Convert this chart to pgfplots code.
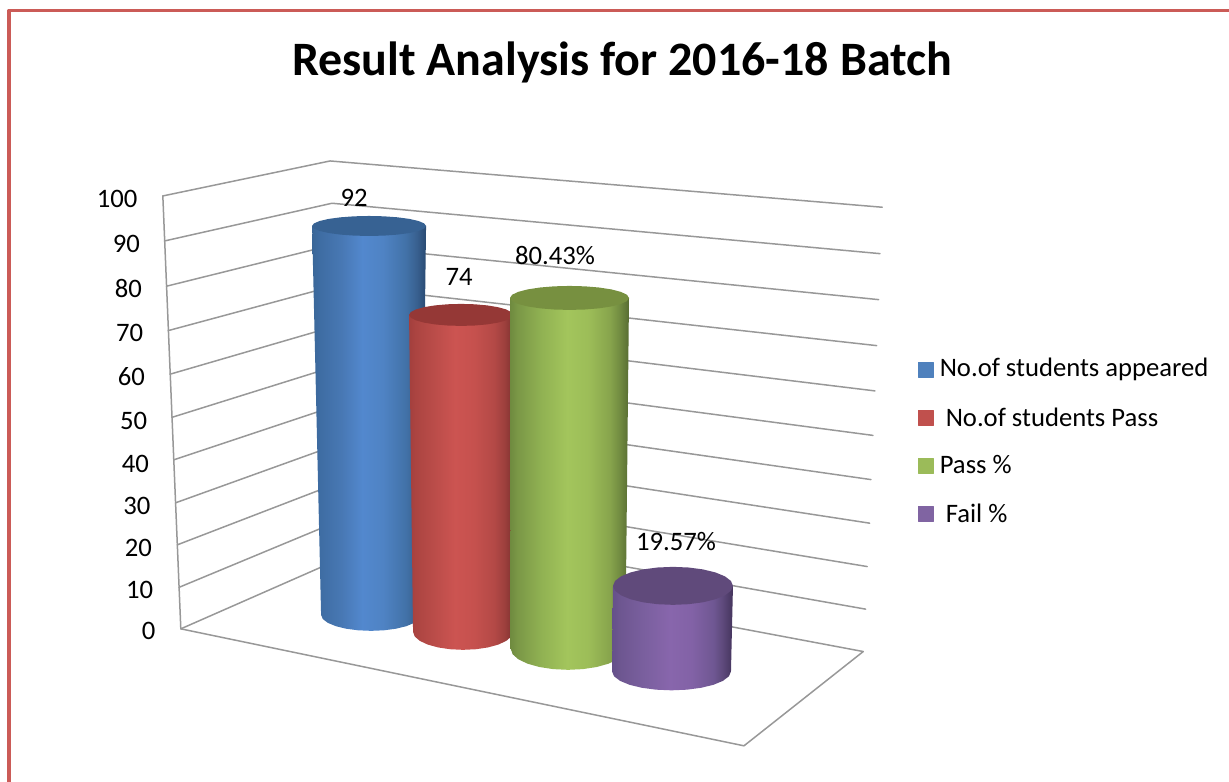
\documentclass[border=0pt]{standalone}
\usepackage{pgfplots}
\pgfplotsset{compat=1.18}
\usepackage{pgfplotstable}
\usepackage{fontspec}
\setmainfont{Carlito}
% one body: lower half of an ellipse, then up to the top rim
\pgfplotstableread{
t c s
0 -1 0
0 -0.966 0.259
0 -0.866 0.5
0 -0.707 0.707
0 -0.5 0.866
0 -0.259 0.966
0 0 1
0 0.259 0.966
0 0.5 0.866
0 0.707 0.707
0 0.866 0.5
0 0.966 0.259
0 1 0
1 1 0
1 -1 0
}\cylbody
\pgfplotstableread{
c s
1 0
0.966 0.259
0.866 0.5
0.707 0.707
0.5 0.866
0.259 0.966
0 1
-0.259 0.966
-0.5 0.866
-0.707 0.707
-0.866 0.5
-0.966 0.259
-1 0
-0.966 -0.259
-0.866 -0.5
-0.707 -0.707
-0.5 -0.866
-0.259 -0.966
0 -1
0.259 -0.966
0.5 -0.866
0.707 -0.707
0.866 -0.5
0.966 -0.259
}\cyltop
\definecolor{border}{HTML}{CB5B57}
\definecolor{gridc}{HTML}{989898}
\definecolor{lgblue}{HTML}{4F81BD}
\definecolor{lgred}{HTML}{C0504D}
\definecolor{lggreen}{HTML}{9BBB59}
\definecolor{lgpurple}{HTML}{8064A2}
\definecolor{topblue}{HTML}{376293}
\definecolor{topred}{HTML}{953836}
\definecolor{topgreen}{HTML}{779040}
\definecolor{toppurple}{HTML}{604A7B}
\pgfdeclarehorizontalshading{cylblue}{100bp}{rgb(0bp)=(.227,.4,.596);rgb(25bp)=(.227,.4,.596);rgb(28bp)=(.243,.424,.635);rgb(38bp)=(.282,.471,.706);rgb(47bp)=(.322,.533,.808);rgb(56bp)=(.31,.514,.769);rgb(66bp)=(.259,.447,.659);rgb(71bp)=(.22,.376,.561);rgb(75bp)=(.161,.29,.447);rgb(100bp)=(.161,.29,.447)}
\pgfdeclarehorizontalshading{cylred}{100bp}{rgb(0bp)=(.639,.247,.239);rgb(25bp)=(.639,.247,.239);rgb(28bp)=(.671,.267,.255);rgb(38bp)=(.737,.302,.29);rgb(47bp)=(.8,.329,.318);rgb(56bp)=(.776,.318,.306);rgb(66bp)=(.702,.286,.275);rgb(71bp)=(.612,.247,.235);rgb(75bp)=(.498,.196,.188);rgb(100bp)=(.498,.196,.188)}
\pgfdeclarehorizontalshading{cylgreen}{100bp}{rgb(0bp)=(.435,.541,.247);rgb(25bp)=(.435,.541,.247);rgb(28bp)=(.478,.592,.275);rgb(38bp)=(.565,.694,.322);rgb(49bp)=(.639,.773,.361);rgb(58bp)=(.612,.741,.345);rgb(67bp)=(.529,.643,.298);rgb(71bp)=(.447,.549,.255);rgb(75bp)=(.345,.424,.196);rgb(100bp)=(.345,.424,.196)}
\pgfdeclarehorizontalshading{cylpurple}{100bp}{rgb(0bp)=(.396,.314,.541);rgb(25bp)=(.396,.314,.541);rgb(28bp)=(.427,.337,.565);rgb(38bp)=(.478,.373,.62);rgb(49bp)=(.533,.4,.675);rgb(58bp)=(.51,.384,.651);rgb(67bp)=(.435,.341,.573);rgb(71bp)=(.361,.282,.475);rgb(75bp)=(.267,.204,.361);rgb(100bp)=(.267,.204,.361)}
% \cyl{shading}{top colour}{value}{px per unit}{top cx}{top rx}{top ry}{bottom cx}{bottom rx}{bottom y}{bottom ry}
\newcommand{\cyl}[9]{%
 \def\cylrest##1##2{%
 \addplot[draw=none,shading=#1,forget plot] table[
   x expr={(1-\thisrow{t})*(#8+#9*\thisrow{c})+\thisrow{t}*(#5+#6*\thisrow{c})},
   y expr={(1-\thisrow{t})*(##1+##2*\thisrow{s})+\thisrow{t}*(##1-#3*#4+#7*\thisrow{s})}
  ] {\cylbody} -- cycle;
 \addplot[draw=none,fill=#2,forget plot] table[
   x expr={#5+#6*\thisrow{c}},
   y expr={##1-#3*#4+#7*\thisrow{s}}
  ] {\cyltop} -- cycle;
 }\cylrest}
\tikzset{lab/.style={inner sep=0pt,text=black,font=\fontsize{16}{16}\selectfont}}
\begin{document}
\begin{tikzpicture}
\begin{axis}[
  scale only axis, width=737.4pt, height=469.2pt,
  xmin=0, xmax=1229, ymin=0, ymax=782, y dir=reverse,
  axis line style={draw=none}, major tick length=0pt,
  xtick=\empty,
  ytick={198.5,244,289,332.7,376.7,420.7,464,506,547.7,590,631},
  yticklabels={{100\kern11pt},{90\kern9.6pt},{80\kern8.4pt},{70\kern7.6pt},{60\kern6.6pt},{50\kern5.2pt},{40\kern4.2pt},{30\kern3.2pt},{20\kern2.4pt},{10\kern1.6pt},{0\kern0.2pt}},
  yticklabel style={anchor=east,xshift=93.6pt,inner sep=0pt,font=\fontsize{16}{16}\selectfont,text=black},
  every axis plot/.append style={line cap=round,line join=round},
]
% frame
\addplot[border,line width=2.3pt,forget plot] coordinates {(9,782)(9,10.5)(1229,10.5)};
% walls and floor
\pgfplotsset{grd/.style={gridc,line width=0.9pt,forget plot,mark=none}}
\addplot[grd] coordinates {(162.7,196)(330,161)(882.3,207.3)};
\addplot[grd] coordinates {(164.5,241)(331.9,203.3)(880,253.7)};
\addplot[grd] coordinates {(166.3,286.3)(333.8,244.7)(878.7,299.7)};
\addplot[grd] coordinates {(168.1,330.7)(335.7,285.5)(876.7,345.7)};
\addplot[grd] coordinates {(169.9,374.3)(337.6,325.5)(875,391)};
\addplot[grd] coordinates {(171.7,417.5)(339.5,365)(873,435.5)};
\addplot[grd] coordinates {(173.5,460)(341.4,404)(871,479.7)};
\addplot[grd] coordinates {(175.3,503)(343.3,442.5)(869.7,523.3)};
\addplot[grd] coordinates {(177.1,545)(345.2,480.3)(867.3,566.7)};
\addplot[grd] coordinates {(178.9,587.5)(347.1,517.6)(865.7,609.3)};
\addplot[grd] coordinates {(180.7,629)(349,555)(863.3,651.7)};
\addplot[grd] coordinates {(162.7,196)(180.7,629)(744,746)(863.3,651.7)};
% cylinders: appeared 92, pass 74, pass % 80.43, fail % 19.57
\cyl{cylblue}{topblue}{92}{4.228}{369}{57}{10}{371}{50}{615}{16}
\cyl{cylred}{topred}{74}{4.284}{461}{52}{11}{463}{50}{632}{18}
\cyl{cylgreen}{topgreen}{80.43}{4.364}{569.5}{59.5}{12}{568}{57.3}{649}{21}
\cyl{cylpurple}{toppurple}{19.57}{4.369}{673}{60}{19}{671.5}{59.5}{671.5}{19}
% legend keys
\addplot[only marks,mark=square*,mark size=4.5pt,color=lgblue,forget plot] coordinates {(925.5,369.5)};
\addplot[only marks,mark=square*,mark size=4.5pt,color=lgred,forget plot] coordinates {(925.5,417.5)};
\addplot[only marks,mark=square*,mark size=4.5pt,color=lggreen,forget plot] coordinates {(925.5,465.5)};
\addplot[only marks,mark=square*,mark size=4.5pt,color=lgpurple,forget plot] coordinates {(925.5,513.5)};
\node[lab,anchor=west] at (axis cs:939.5,369) {No.of students appeared};
\node[lab,anchor=west] at (axis cs:945.5,417) {No.of students Pass};
\node[lab,anchor=west] at (axis cs:939.5,465) {Pass \%};
\node[lab,anchor=west] at (axis cs:945.5,513) {Fail \%};
% data labels
\node[lab] at (axis cs:354,198) {92};
\node[lab] at (axis cs:459,277) {74};
\node[lab] at (axis cs:555,256) {80.43\%};
\node[lab] at (axis cs:676,542) {19.57\%};
% title
\node[lab,font=\bfseries\fontsize{28.8}{30}\selectfont] at (axis cs:622,62) {Result Analysis for 2016-18 Batch};
\end{axis}
\end{tikzpicture}
\end{document}
